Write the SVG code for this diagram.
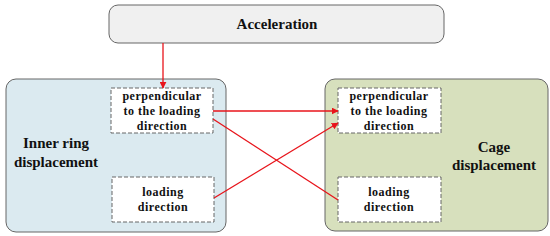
<svg xmlns="http://www.w3.org/2000/svg" width="550" height="236" viewBox="0 0 550 236">
<defs>
<style>
text{font-family:'Liberation Serif','Times New Roman',serif;font-weight:bold;fill:#111;text-anchor:middle}
.big{font-size:15px}
.sm{font-size:12px;letter-spacing:0.5px}
.dash{fill:#fff;stroke:#666;stroke-width:1;stroke-dasharray:4,2}
.c{stroke:#e8141b;stroke-width:1.3;fill:none}
</style>
<marker id="ah" viewBox="0 0 10 10" refX="9" refY="5" markerWidth="7" markerHeight="7" orient="auto" markerUnits="userSpaceOnUse">
<path d="M0,0 L10,5 L0,10 z" fill="#e8141b"/>
</marker>
</defs>
<g id="acceleration">
<rect x="109" y="5" width="335" height="38" rx="9" fill="#f0f0f0" stroke="#666" stroke-width="1"/>
<text x="277" y="29" font-size="15">Acceleration</text>
</g>
<g id="inner-ring">
<rect x="6" y="79" width="220" height="153" rx="10" fill="#dbeaf0" stroke="#666" stroke-width="1"/>
<text class="big" x="56" y="148">Inner ring</text>
<text class="big" x="56" y="167">displacement</text>
</g>
<g id="inner-perp">
<rect class="dash" x="111" y="88" width="102" height="45"/>
<text class="sm" x="162" y="100">perpendicular</text>
<text class="sm" x="162" y="115">to the loading</text>
<text class="sm" x="162" y="130">direction</text>
</g>
<g id="inner-load">
<rect class="dash" x="112" y="177" width="102" height="45"/>
<text class="sm" x="163" y="196">loading</text>
<text class="sm" x="163" y="211">direction</text>
</g>
<g id="cage">
<rect x="325" y="79" width="223" height="152" rx="10" fill="#d7e0bd" stroke="#666" stroke-width="1"/>
<text class="big" x="494" y="152">Cage</text>
<text class="big" x="494" y="170">displacement</text>
</g>
<g id="cage-perp">
<rect class="dash" x="338" y="88" width="103" height="45"/>
<text class="sm" x="389" y="100">perpendicular</text>
<text class="sm" x="389" y="115">to the loading</text>
<text class="sm" x="389" y="130">direction</text>
</g>
<g id="cage-load">
<rect class="dash" x="338" y="177" width="103" height="45"/>
<text class="sm" x="389" y="196">loading</text>
<text class="sm" x="389" y="211">direction</text>
</g>
<g id="connectors">
<line class="c" x1="163" y1="43" x2="163" y2="88" marker-end="url(#ah)"/>
<line class="c" x1="213" y1="111" x2="338" y2="111" marker-end="url(#ah)"/>
<line class="c" x1="213" y1="119" x2="338" y2="200"/>
<line class="c" x1="214" y1="198" x2="338" y2="123" marker-end="url(#ah)"/>
</g>
</svg>
